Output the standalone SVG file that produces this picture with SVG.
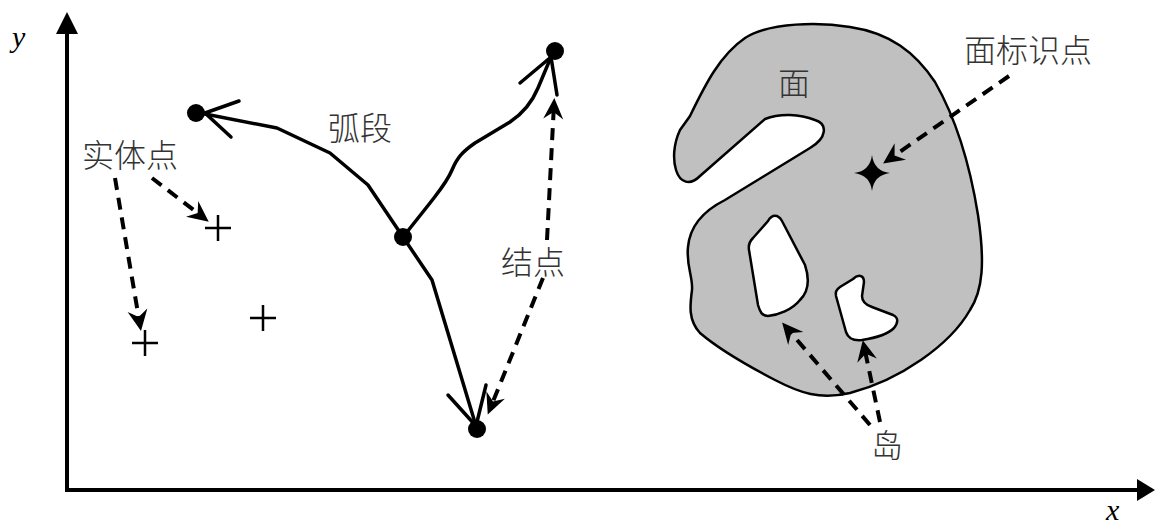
<svg xmlns="http://www.w3.org/2000/svg" width="1155" height="526" viewBox="0 0 1155 526">
<style>
.lbl{font-family:"Noto Sans CJK SC","Noto Sans",sans-serif;font-size:32px;font-weight:300;fill:#333}
.ax{font-family:"Liberation Serif",serif;font-style:italic;font-size:30px;fill:#000}
.solid{fill:none;stroke:#000;stroke-width:3.5;stroke-linejoin:round;stroke-linecap:round}
.dash{fill:none;stroke:#000;stroke-width:4;stroke-dasharray:12 8}
.cross{stroke:#000;stroke-width:2.5;fill:none}
.face{fill:#c0c0c0;stroke:#000;stroke-width:2.5}
.hole{fill:#fff;stroke:#000;stroke-width:2.5}
</style>
<defs>
<marker id="ah" markerUnits="userSpaceOnUse" markerWidth="30" markerHeight="30" viewBox="-20 -12 30 24" refX="0" refY="0" orient="auto" overflow="visible">
<path d="M6,0 L-15,-10 L-8,0 L-15,10 Z" fill="#000"/>
</marker>
</defs>
<g id="axes">
<line x1="67" y1="490" x2="67" y2="32" stroke="#000" stroke-width="4"/>
<path d="M67,12 L56,34 L78,34 Z" fill="#000"/>
<line x1="65" y1="490" x2="1140" y2="490" stroke="#000" stroke-width="4"/>
<path d="M1155,490 L1137,479 L1137,501 Z" fill="#000"/>
<text class="ax" x="12" y="47">y</text>
<text class="ax" x="1106" y="520">x</text>
</g>
<g id="face">
<path class="face" d="M680,130 L690,116 C705,85 720,55 745,38 C770,22 820,22 850,27 C890,33 915,52 935,82 C955,117 970,165 978,215 C985,262 983,290 970,310 C950,345 900,380 850,393 C820,400 800,393 775,380 C750,367 720,350 700,333 C688,320 690,305 692,290 C693,276 686,266 688,247 C690,225 705,210 725,200 L810,148 C827,138 828,124 815,120 C800,114 780,113 765,119 L700,176 C690,186 680,183 676,170 C673,160 673,145 680,130 Z"/>
<path class="hole" d="M768,221 C772,214 778,214 782,221 L805,265 C810,280 808,292 800,300 C792,310 778,315 768,316 C762,316 760,312 758,305 L749,250 C748,244 750,241 753,238 Z"/>
<path class="hole" d="M853,279 C858,274 864,275 864,282 L862,296 C862,302 866,305 872,307 L893,315 C899,318 898,323 894,328 C887,335 875,338 862,340 C852,341 848,338 846,332 L836,296 C835,292 837,289 840,287 Z"/>
<text class="lbl" x="778" y="95">面</text>
</g>
<g id="face-id-point">
<path d="M872,155 Q874,171 890,173 Q874,175 872,191 Q870,175 854,173 Q870,171 872,155 Z" fill="#000"/>
</g>
<g id="node-center"><circle cx="403" cy="237" r="9" fill="#000"/></g>
<g id="node-left"><circle cx="196" cy="113" r="9" fill="#000"/></g>
<g id="node-top"><circle cx="555" cy="51" r="9" fill="#000"/></g>
<g id="node-bottom"><circle cx="477" cy="429" r="9" fill="#000"/></g>
<g id="points">
<path class="cross" d="M205,228 H231 M218,215 V241"/>
<path class="cross" d="M132,343 H158 M145,330 V356"/>
<path class="cross" d="M250,318 H276 M263,305 V331"/>
</g>
<g id="connectors">
<path class="solid" d="M403,237 L368,185 L330,153 L277,128 L200,113"/>
<path class="solid" d="M205,113 L239,101 M205,113 L231,137"/>
<path class="solid" d="M403,237 L430,203 C440,190 447,182 452,170 C457,158 462,152 475,143 L510,122 C525,112 533,100 538,88 L551,57"/>
<path class="solid" d="M551,57 L520,83 M551,57 L557,95"/>
<path class="solid" d="M403,237 L432,280 L476,426"/>
<path class="solid" d="M476,426 L448,395 M476,426 L486,385"/>
<line class="dash" x1="547" y1="240" x2="554" y2="104" marker-end="url(#ah)"/>
<line class="dash" x1="543" y1="278" x2="490" y2="409" marker-end="url(#ah)"/>
<line class="dash" x1="115" y1="178" x2="140" y2="325" marker-end="url(#ah)"/>
<line class="dash" x1="152" y1="178" x2="204" y2="218" marker-end="url(#ah)"/>
<line class="dash" x1="1009" y1="76" x2="888" y2="160" marker-end="url(#ah)"/>
<line class="dash" x1="870" y1="425" x2="786" y2="327" marker-end="url(#ah)"/>
<line class="dash" x1="880" y1="422" x2="864" y2="346" marker-end="url(#ah)"/>
</g>
<g id="labels">
<text class="lbl" x="82" y="167">实体点</text>
<text class="lbl" x="328" y="140">弧段</text>
<text class="lbl" x="501" y="274">结点</text>
<text class="lbl" x="964" y="62">面标识点</text>
<text class="lbl" x="871" y="457">岛</text>
</g>
</svg>
